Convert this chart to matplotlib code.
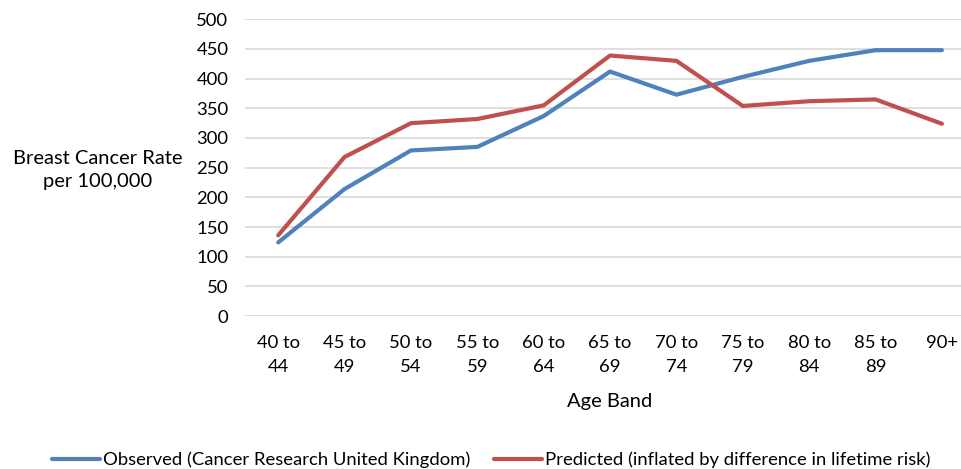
import matplotlib
matplotlib.use("Agg")
from matplotlib import pyplot as plt
import numpy as np

age_bands = ["40 to\n44", "45 to\n49", "50 to\n54", "55 to\n59", "60 to\n64",
             "65 to\n69", "70 to\n74", "75 to\n79", "80 to\n84", "85 to\n89", "90+"]
observed = [124, 214, 279, 285, 337, 412, 373, 403, 430, 448, 448]
predicted = [136, 268, 325, 332, 355, 439, 430, 354, 362, 365, 324]

plt.rcParams["font.family"] = ["Lato", "DejaVu Sans"]

fig = plt.figure(figsize=(9.62, 4.69), dpi=100)
ax = fig.add_axes([0.2547, 0.3262, 0.7589, 0.6326])

x = np.arange(len(age_bands))
ax.plot(x, observed, color="#4F81BD", lw=3, solid_capstyle="round",
        label="Observed (Cancer Research United Kingdom)")
ax.plot(x, predicted, color="#C0504D", lw=3, solid_capstyle="round",
        label="Predicted (inflated by difference in lifetime risk)")

ax.set_xlim(-0.5, len(age_bands) - 0.5)
ax.set_ylim(0, 500)
ax.set_yticks(range(0, 501, 50))
ax.set_xticks(x)
ax.set_xticklabels(age_bands, linespacing=1.6)
ax.tick_params(axis="both", length=0, labelsize=13.3, colors="black")
ax.tick_params(axis="x", pad=14)
ax.tick_params(axis="y", pad=12)
ax.grid(axis="y", color="#D9D9D9", lw=1.2)
ax.set_axisbelow(True)
for s in ax.spines.values():
    s.set_visible(False)

fig.text(98 / 962, 1 - 170 / 469, "Breast Cancer Rate\nper 100,000",
         ha="center", va="center", fontsize=14.5, linespacing=1.4)
fig.text(610 / 962, 1 - 402 / 469, "Age Band", ha="center", va="center", fontsize=14.5)

fig.legend(loc="center", bbox_to_anchor=(491 / 962, 1 - 460 / 469), ncol=2,
           frameon=False, fontsize=13.3, handlelength=2.6, handletextpad=0.15,
           columnspacing=1.3)

fig.savefig("out.png", dpi=100)
